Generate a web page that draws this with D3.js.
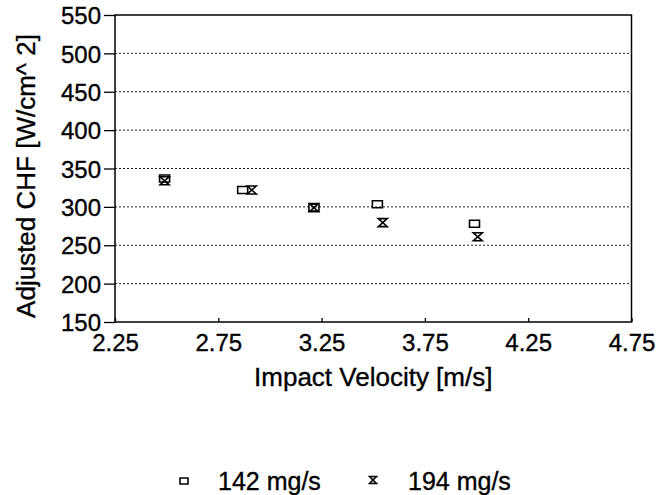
<!DOCTYPE html>
<html><head><meta charset="utf-8">
<script src="https://cdn.jsdelivr.net/npm/d3@7"></script>
<style>
body{margin:0;background:#fff;}
svg{display:block;}
text{font-family:"Liberation Sans",Arial,sans-serif;fill:#000;stroke:#000;stroke-width:0.35px;}
</style></head>
<body><svg id="c" width="657" height="495"></svg>
<script>
const xTicks = [2.25, 2.75, 3.25, 3.75, 4.25, 4.75];
const yTicks = [150, 200, 250, 300, 350, 400, 450, 500, 550];
const seriesNames = ["142 mg/s", "194 mg/s"];
const vel142 = [2.49, 2.868, 3.213, 3.52, 3.99];
const chf142 = [337, 322, 299, 303.5, 278];
const vel194 = [2.49, 2.912, 3.213, 3.546, 4.006];
const chf194 = [334, 322, 299, 279.5, 261];
const xTitle = "Impact Velocity [m/s]";
const yTitle = "Adjusted CHF [W/cm^ 2]";

const svg = d3.select("#c");
const L = 115, R = 631.5, T = 15, B = 322;
const x = d3.scaleLinear().domain([2.25, 4.75]).range([L, R]);
const y = d3.scaleLinear().domain([150, 550]).range([B, T]);

// grid
svg.append("g").selectAll("line").data(yTicks.filter(d => d > 150 && d < 550)).join("line")
  .attr("x1", L).attr("x2", R).attr("y1", d => y(d)).attr("y2", d => y(d))
  .attr("stroke", "#222").attr("stroke-width", 1).attr("stroke-dasharray", "2,2");

// frame
svg.append("rect").attr("x", L).attr("y", T).attr("width", R - L).attr("height", B - T)
  .attr("fill", "none").attr("stroke", "#000").attr("stroke-width", 1.5);

// y axis
const ya = svg.append("g").attr("transform", `translate(${L},0)`)
  .call(d3.axisLeft(y).tickValues(yTicks).tickFormat(d3.format("d")).tickSize(11).tickPadding(3));
ya.select(".domain").remove();
ya.selectAll("line").attr("stroke", "#000").attr("stroke-width", 1.3);
ya.selectAll("text").attr("font-size", 24).attr("dy", "0.36em").style("font-family", "Liberation Sans, Arial, sans-serif");

// x axis
const xa = svg.append("g").attr("transform", `translate(0,${B})`)
  .call(d3.axisBottom(x).tickValues(xTicks).tickFormat(d3.format(".2f")).tickSize(-4).tickPadding(12));
xa.select(".domain").remove();
xa.selectAll("line").attr("stroke", "#000").attr("stroke-width", 1.3);
xa.selectAll("text").attr("font-size", 24).style("font-family", "Liberation Sans, Arial, sans-serif");

// titles
svg.append("text").attr("x", (L + R) / 2).attr("y", 386).attr("text-anchor", "middle")
  .attr("font-size", 26).text(xTitle);
svg.append("text").attr("transform", "translate(35,176) rotate(-90)").attr("text-anchor", "middle")
  .attr("font-size", 26).text(yTitle);

// markers
const sq = "M-5,-3.5H5V3.5H-5Z";
const hg = "M-4.5,-4H4.5L-4.5,4H4.5Z";
svg.append("g").selectAll("path").data(vel142.map((v, i) => [v, chf142[i]])).join("path")
  .attr("transform", d => `translate(${x(d[0])},${y(d[1])})`).attr("d", sq)
  .attr("fill", "none").attr("stroke", "#000").attr("stroke-width", 1.6);
svg.append("g").selectAll("path").data(vel194.map((v, i) => [v, chf194[i]])).join("path")
  .attr("transform", d => `translate(${x(d[0])},${y(d[1])})`).attr("d", hg)
  .attr("fill", "none").attr("stroke", "#000").attr("stroke-width", 1.6);

// legend
const lg = svg.append("g");
lg.append("path").attr("transform", "translate(184,481)").attr("d", "M-4,-3H4V3H-4Z")
  .attr("fill", "none").attr("stroke", "#000").attr("stroke-width", 1.6);
lg.append("text").attr("x", 218).attr("y", 490).attr("font-size", 25).text(seriesNames[0]);
lg.append("path").attr("transform", "translate(373,480)").attr("d", "M-3.5,-3.5H3.5L-3.5,3.5H3.5Z")
  .attr("fill", "none").attr("stroke", "#000").attr("stroke-width", 1.6);
lg.append("text").attr("x", 408).attr("y", 490).attr("font-size", 25).text(seriesNames[1]);
</script></body></html>
